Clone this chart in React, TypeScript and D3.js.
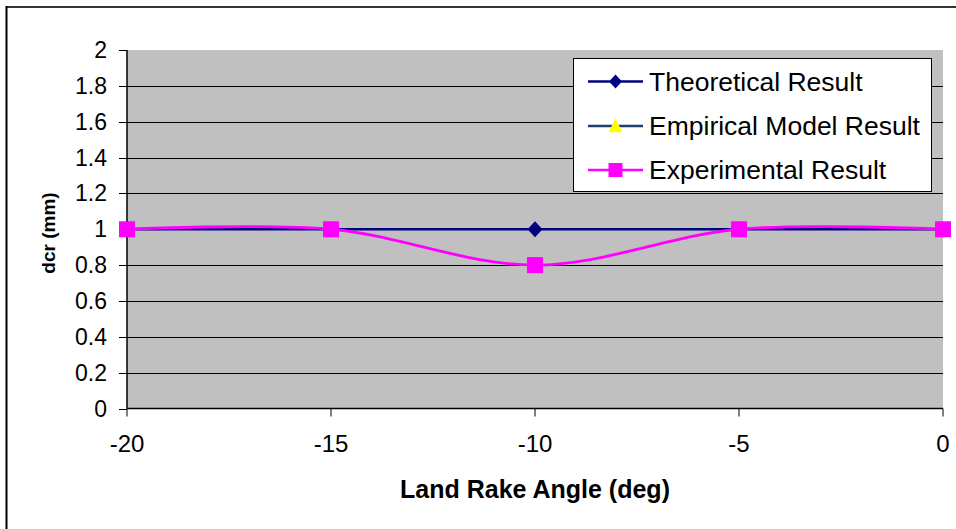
import React from "react";
import * as d3 from "d3";

// Land rake angle (deg) and crater distance dcr (mm) for each series
const angles = [-20, -15, -10, -5, 0];
const theoretical = [1, 1, 1, 1, 1];
const empirical: number[] = [];
const experimental = [1, 1, 0.8, 1, 1];

const yTicks = [0, 0.2, 0.4, 0.6, 0.8, 1, 1.2, 1.4, 1.6, 1.8, 2];
const xTicks = [-20, -15, -10, -5, 0];

const seriesNames = ["Theoretical Result", "Empirical Model Result", "Experimental Result"];

const W = 956;
const H = 529;
const FONT = "Arial, 'Liberation Sans', Helvetica, sans-serif";

const x = d3.scaleLinear().domain([-20, 0]).range([127, 943]);
const y = d3.scaleLinear().domain([0, 2]).range([408.5, 50]);

const straight = d3
  .line<[number, number]>()
  .x((d) => x(d[0]))
  .y((d) => y(d[1]));

const smooth = d3
  .line<[number, number]>()
  .x((d) => x(d[0]))
  .y((d) => y(d[1]))
  .curve(d3.curveCatmullRom.alpha(0));

const pairs = (vals: number[]) => vals.map((v, i) => [angles[i], v] as [number, number]);

const diamond = (cx: number, cy: number, rx: number, ry: number) =>
  `M${cx},${cy - ry}L${cx + rx},${cy}L${cx},${cy + ry}L${cx - rx},${cy}Z`;

const triangle = (cx: number, cy: number, s: number) =>
  `M${cx},${cy - s * 0.55}L${cx + s / 2},${cy + s * 0.45}L${cx - s / 2},${cy + s * 0.45}Z`;

export default function App() {
  const left = x(-20);
  const right = x(0);
  const top = y(2);
  const bottom = y(0);

  const legendX = 573.5;
  const legendY = 58.5;
  const rows = [81.5, 126, 170];

  return (
    <svg
      width={W}
      height={H}
      style={{ position: "absolute", left: 0, top: 0, background: "#fff" }}
      fontFamily={FONT}
    >
      {/* frame */}
      <line x1={6} x2={W} y1={7} y2={7} stroke="#333" strokeWidth={2} />
      <line x1={6.5} x2={6.5} y1={6} y2={H} stroke="#000" strokeWidth={2} />

      {/* plot area */}
      <rect x={left} y={top} width={right - left} height={bottom - top} fill="#C0C0C0" />

      {/* gridlines */}
      {yTicks
        .filter((t) => t > 0 && t < 2)
        .map((t) => (
          <line
            key={`g${t}`}
            x1={left}
            x2={right}
            y1={Math.round(y(t)) + 0.5}
            y2={Math.round(y(t)) + 0.5}
            stroke="#000"
            strokeWidth={1}
          />
        ))}

      {/* y axis */}
      <line x1={left} x2={left} y1={top} y2={bottom} stroke="#000" strokeWidth={1.5} />
      {yTicks.map((t) => (
        <g key={`y${t}`}>
          <line
            x1={left - 8}
            x2={left}
            y1={Math.round(y(t)) + 0.5}
            y2={Math.round(y(t)) + 0.5}
            stroke="#000"
          />
          <text
            x={107}
            y={y(t)}
            textAnchor="end"
            dominantBaseline="central"
            fontSize={23}
            fill="#000"
          >
            {String(t)}
          </text>
        </g>
      ))}

      {/* x axis */}
      <line x1={left} x2={right} y1={bottom} y2={bottom} stroke="#000" strokeWidth={1.5} />
      {xTicks.map((t) => (
        <g key={`x${t}`}>
          <line x1={x(t)} x2={x(t)} y1={bottom} y2={bottom + 8} stroke="#000" />
          <text x={x(t)} y={452} textAnchor="middle" fontSize={24} fill="#000">
            {String(t)}
          </text>
        </g>
      ))}

      {/* axis titles */}
      <text x={535} y={498} textAnchor="middle" fontSize={25} fontWeight="bold" fill="#000">
        Land Rake Angle (deg)
      </text>
      <text
        transform={`translate(55,233) rotate(-90)`}
        textAnchor="middle"
        fontSize={19}
        fontWeight="bold"
        fill="#000"
      >
        dcr (mm)
      </text>

      {/* theoretical series */}
      <path d={straight(pairs(theoretical)) ?? ""} fill="none" stroke="#000080" strokeWidth={2.5} />
      {theoretical.map((v, i) => (
        <path key={`d${i}`} d={diamond(x(angles[i]), y(v), 7.5, 8)} fill="#000080" />
      ))}

      {/* empirical model series */}
      {empirical.length > 0 && (
        <path d={straight(pairs(empirical)) ?? ""} fill="none" stroke="#1F3F6F" strokeWidth={2.5} />
      )}
      {empirical.map((v, i) => (
        <path key={`t${i}`} d={triangle(x(angles[i]), y(v), 14)} fill="#FFFF00" />
      ))}

      {/* experimental series */}
      <path d={smooth(pairs(experimental)) ?? ""} fill="none" stroke="#FF00FF" strokeWidth={2.8} />
      {experimental.map((v, i) => (
        <rect
          key={`s${i}`}
          x={x(angles[i]) - 8}
          y={y(v) - 8}
          width={16}
          height={16}
          fill="#FF00FF"
        />
      ))}

      {/* legend */}
      <rect x={legendX} y={legendY} width={358} height={133} fill="#fff" stroke="#000" strokeWidth={1} />
      {seriesNames.map((name, i) => {
        const ry = rows[i];
        const lineColor = i === 0 ? "#000080" : i === 1 ? "#1F3F6F" : "#FF00FF";
        const mx = 615.5;
        return (
          <g key={name}>
            <line x1={588} x2={643} y1={ry} y2={ry} stroke={lineColor} strokeWidth={2.5} />
            {i === 0 && <path d={diamond(mx, ry, 6.5, 7)} fill="#000080" />}
            {i === 1 && <path d={triangle(mx, ry, 14)} fill="#FFFF00" />}
            {i === 2 && <rect x={mx - 7} y={ry - 7} width={14} height={14} fill="#FF00FF" />}
            <text x={649} y={ry} dominantBaseline="central" fontSize={26.5} fill="#000">
              {name}
            </text>
          </g>
        );
      })}
    </svg>
  );
}
